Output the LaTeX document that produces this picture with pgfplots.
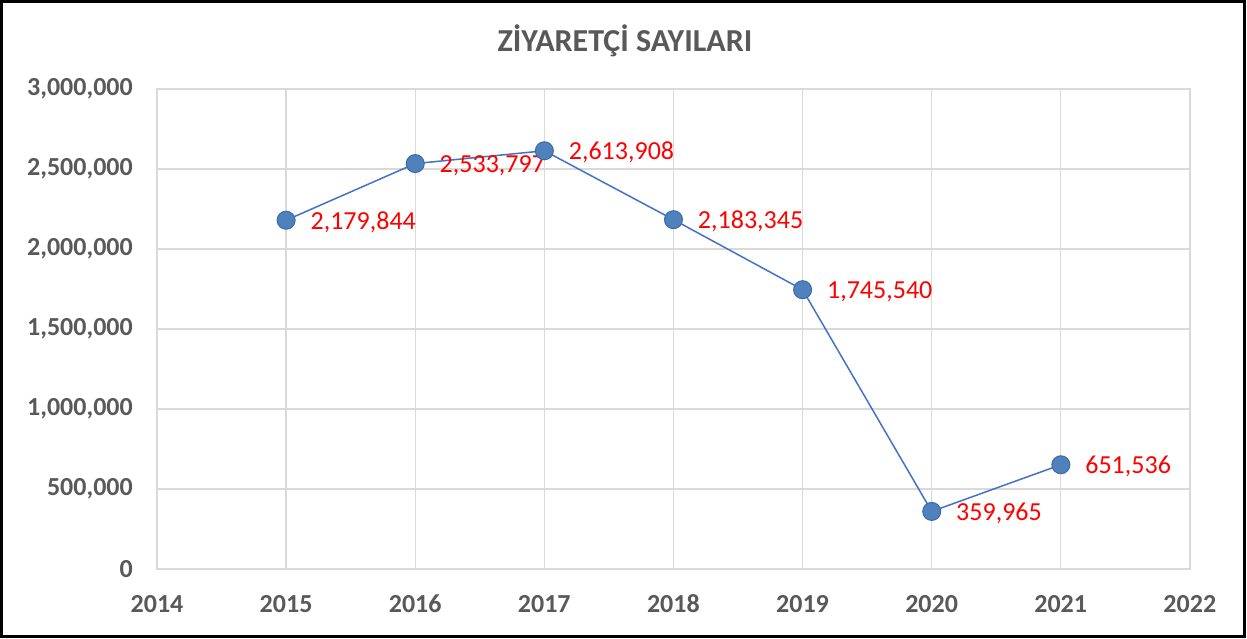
\documentclass[border=0pt]{standalone}
\usepackage{fontspec}
\setmainfont{Carlito}
\usepackage{pgfplots}
\usepackage{pgfplotstable}
\pgfplotsset{compat=1.18}
\definecolor{lbl}{HTML}{595959}
\definecolor{grd}{HTML}{D9D9D9}
\definecolor{ln}{HTML}{4472C4}
\definecolor{mk}{HTML}{4F81BD}
\definecolor{mkd}{HTML}{3A6BA5}
\pgfplotstableread{
x y label
2015 2179844 {2,179,844}
2016 2533797 {2,533,797}
2017 2613908 {2,613,908}
2018 2183345 {2,183,345}
2019 1745540 {1,745,540}
2020 359965 {359,965}
2021 651536 {651,536}
}\datatable
\begin{document}
\begin{tikzpicture}[x=1pt,y=1pt]
\fill[white] (-157,-70) rectangle (1090,569);
\useasboundingbox (-157,-70) rectangle (1090,569);
\draw[black,line width=2.5pt] (-155.5,-67.5) rectangle (1087.5,567.5);
\begin{axis}[
  at={(0,0)}, anchor=south west,
  scale only axis, width=1033pt, height=480pt,
  xmin=2014, xmax=2022, ymin=0, ymax=3000000,
  xtick={2014,...,2022}, ytick={0,500000,...,3000000},
  scaled y ticks=false,
  grid=major, major grid style={grd, line width=1.2pt},
  axis line style={grd, line width=1.2pt},
  tick style={draw=none},
  xticklabel={\pgfmathprintnumber[1000 sep={},fixed,precision=0]{\tick}},
  yticklabel={\pgfmathprintnumber[1000 sep={,},fixed,precision=0,assume math mode=true]{\tick}},
  /pgf/number format/assume math mode=true,
  xticklabel style={anchor=center, yshift=-35pt, text=lbl, font=\fontsize{26}{30}\selectfont\bfseries},
  yticklabel style={anchor=east, inner sep=0pt, xshift=-24pt, text=lbl, font=\fontsize{26}{30}\selectfont\bfseries},
  title={\bfseries ZİYARETÇİ SAYILARI},
  title style={at={(rel axis cs:0.453,1)}, anchor=center, yshift=42pt, text=lbl, font=\fontsize{32}{38}\selectfont\bfseries},
  clip=false,
]
\addplot[ln, line width=1.5pt, mark=*, mark size=9pt, mark options={fill=mk, draw=mkd, line width=1pt},
  point meta=explicit symbolic,
  nodes near coords,
  every node near coord/.append style={anchor=west, xshift=24pt, yshift=-2pt, inner sep=0pt, text=red, font=\fontsize{26}{30}\selectfont}]
  table[x=x, y=y, meta=label] {\datatable};
\end{axis}
\end{tikzpicture}
\end{document}
